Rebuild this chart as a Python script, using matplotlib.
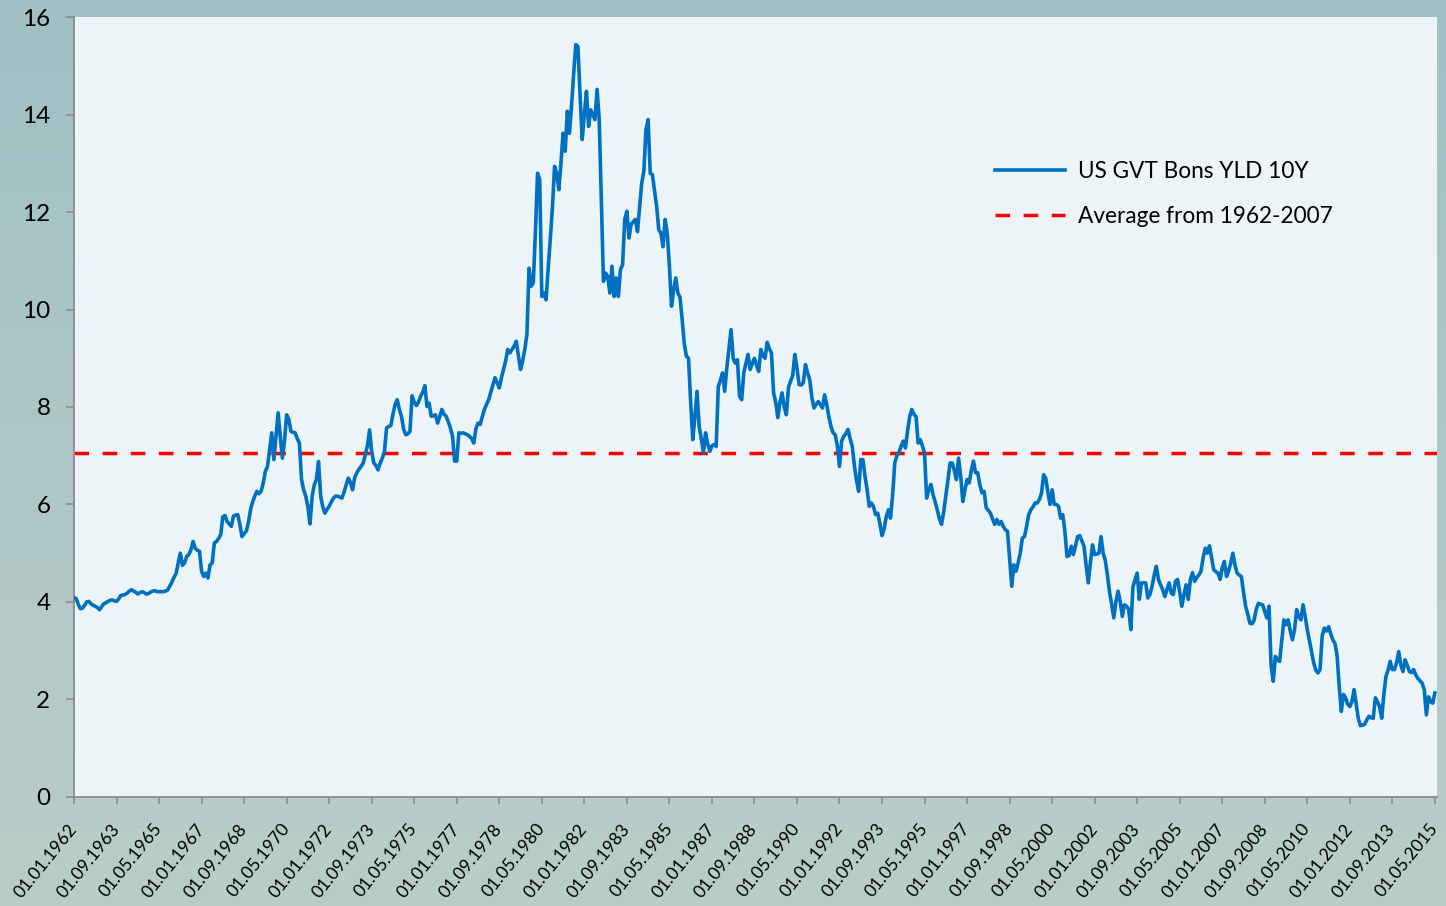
import numpy as np
import pandas as pd
import matplotlib
matplotlib.use("Agg")
import matplotlib.pyplot as plt
from matplotlib.colors import LinearSegmentedColormap

# ---------------- data ----------------
start_date = "1962-01-01"
end_date = "2015-05-01"
dates = pd.date_range(start_date, end_date, freq="MS")

series_label = "US GVT Bons YLD 10Y"
avg_label = "Average from 1962-2007"
avg_value = 7.06

yield_10y = [
    # 1962
    4.08, 4.07, 3.95, 3.86, 3.87, 3.93, 4.00, 4.01, 3.96, 3.93, 3.91, 3.88,
    # 1963
    3.84, 3.90, 3.96, 3.98, 4.01, 4.03, 4.04, 4.02, 4.01, 4.06, 4.13, 4.14,
    # 1964
    4.15, 4.18, 4.22, 4.25, 4.22, 4.20, 4.16, 4.19, 4.21, 4.19, 4.16, 4.17,
    # 1965
    4.20, 4.22, 4.23, 4.21, 4.21, 4.21, 4.21, 4.22, 4.24, 4.32, 4.40, 4.50,
    # 1966
    4.58, 4.80, 5.00, 4.75, 4.80, 4.93, 4.97, 5.07, 5.24, 5.10, 5.06, 5.04,
    # 1967
    4.63, 4.52, 4.59, 4.49, 4.76, 4.80, 5.21, 5.24, 5.30, 5.38, 5.75, 5.77,
    # 1968
    5.65, 5.60, 5.55, 5.76, 5.78, 5.79, 5.59, 5.34, 5.40, 5.45, 5.62, 5.89,
    # 1969
    6.05, 6.17, 6.27, 6.22, 6.27, 6.44, 6.68, 6.78, 7.13, 7.47, 6.92, 7.40,
    # 1970
    7.88, 7.40, 6.95, 7.30, 7.84, 7.75, 7.50, 7.48, 7.47, 7.35, 7.26, 6.51,
    # 1971
    6.30, 6.17, 5.95, 5.60, 6.17, 6.40, 6.51, 6.88, 6.17, 5.95, 5.82, 5.90,
    # 1972
    5.96, 6.05, 6.13, 6.17, 6.17, 6.15, 6.13, 6.25, 6.40, 6.54, 6.45, 6.30,
    # 1973
    6.55, 6.65, 6.72, 6.78, 6.85, 7.02, 7.20, 7.53, 7.09, 6.85, 6.80, 6.71,
    # 1974
    6.85, 6.95, 7.09, 7.57, 7.60, 7.62, 7.85, 8.05, 8.15, 7.95, 7.81, 7.55,
    # 1975
    7.43, 7.45, 7.50, 8.23, 8.10, 8.03, 8.10, 8.22, 8.30, 8.44, 8.01, 8.08,
    # 1976
    7.81, 7.82, 7.84, 7.67, 7.80, 7.95, 7.85, 7.81, 7.70, 7.57, 7.40, 6.89,
    # 1977
    6.89, 7.47, 7.46, 7.47, 7.45, 7.43, 7.40, 7.35, 7.26, 7.55, 7.67, 7.64,
    # 1978
    7.80, 7.95, 8.05, 8.15, 8.30, 8.45, 8.60, 8.50, 8.39, 8.60, 8.77, 8.95,
    # 1979
    9.18, 9.11, 9.18, 9.25, 9.35, 9.05, 8.77, 8.95, 9.18, 9.49, 10.85, 10.48,
    # 1980
    10.55, 11.60, 12.80, 12.67, 10.27, 10.34, 10.20, 10.85, 11.45, 12.10, 12.94, 12.80,
    # 1981
    12.46, 13.00, 13.62, 13.25, 14.07, 13.62, 14.20, 14.85, 15.44, 15.40, 14.40, 13.49,
    # 1982
    14.00, 14.48, 13.76, 14.10, 14.00, 13.90, 14.52, 13.90, 12.20, 10.58, 10.75, 10.68,
    # 1983
    10.34, 10.89, 10.27, 10.65, 10.27, 10.82, 10.92, 11.85, 12.02, 11.47, 11.75, 11.80,
    # 1984
    11.85, 11.60, 12.10, 12.60, 12.84, 13.70, 13.90, 12.80, 12.77, 12.45, 12.12, 11.64,
    # 1985
    11.57, 11.29, 11.85, 11.57, 10.90, 10.07, 10.40, 10.65, 10.34, 10.25, 9.80, 9.30,
    # 1986
    9.04, 9.00, 8.10, 7.33, 7.80, 8.32, 7.60, 7.35, 7.06, 7.47, 7.25, 7.09,
    # 1987
    7.20, 7.23, 7.19, 8.42, 8.55, 8.70, 8.32, 8.80, 9.20, 9.59, 9.00, 8.90,
    # 1988
    8.97, 8.22, 8.15, 8.70, 8.90, 9.08, 8.77, 8.90, 9.00, 8.85, 8.73, 9.18,
    # 1989
    9.05, 9.00, 9.33, 9.20, 9.11, 8.29, 8.10, 7.78, 8.10, 8.29, 8.00, 7.84,
    # 1990
    8.40, 8.53, 8.65, 9.08, 8.80, 8.46, 8.45, 8.50, 8.87, 8.70, 8.56, 8.20,
    # 1991
    7.98, 8.05, 8.11, 8.05, 7.98, 8.25, 8.05, 7.80, 7.60, 7.47, 7.43, 7.20,
    # 1992
    6.78, 7.30, 7.40, 7.45, 7.54, 7.35, 7.19, 6.80, 6.50, 6.27, 6.92, 6.92,
    # 1993
    6.58, 6.30, 5.96, 6.03, 5.95, 5.79, 5.82, 5.60, 5.36, 5.50, 5.75, 5.89,
    # 1994
    5.72, 6.20, 6.85, 7.00, 7.07, 7.20, 7.30, 7.16, 7.50, 7.80, 7.95, 7.85,
    # 1995
    7.80, 7.26, 7.33, 7.20, 7.05, 6.13, 6.30, 6.41, 6.20, 6.05, 5.89, 5.70,
    # 1996
    5.59, 5.85, 6.17, 6.50, 6.85, 6.85, 6.70, 6.51, 6.95, 6.58, 6.06, 6.30,
    # 1997
    6.51, 6.44, 6.70, 6.89, 6.65, 6.65, 6.40, 6.24, 6.27, 5.93, 5.88, 5.82,
    # 1998
    5.70, 5.59, 5.69, 5.59, 5.65, 5.55, 5.48, 5.45, 4.90, 4.32, 4.76, 4.63,
    # 1999
    4.80, 5.00, 5.31, 5.34, 5.55, 5.79, 5.89, 5.95, 6.03, 6.03, 6.10, 6.23,
    # 2000
    6.61, 6.54, 6.25, 6.00, 6.30, 6.00, 6.00, 5.96, 5.72, 5.79, 5.45, 4.93,
    # 2001
    4.95, 5.14, 4.97, 5.15, 5.34, 5.36, 5.25, 5.14, 4.75, 4.39, 4.80, 5.17,
    # 2002
    4.97, 4.98, 5.00, 5.34, 5.00, 4.85, 4.55, 4.20, 3.95, 3.67, 4.00, 4.22,
    # 2003
    4.01, 3.70, 3.94, 3.91, 3.85, 3.43, 4.30, 4.46, 4.59, 4.05, 4.39, 4.39,
    # 2004
    4.39, 4.08, 4.15, 4.32, 4.55, 4.73, 4.46, 4.35, 4.25, 4.11, 4.25, 4.39,
    # 2005
    4.18, 4.15, 4.42, 4.46, 4.20, 3.91, 4.15, 4.35, 4.05, 4.45, 4.60, 4.42,
    # 2006
    4.50, 4.55, 4.63, 4.90, 5.10, 5.00, 5.15, 4.90, 4.66, 4.62, 4.59, 4.46,
    # 2007
    4.70, 4.83, 4.52, 4.63, 4.80, 5.00, 4.75, 4.59, 4.55, 4.52, 4.20, 3.91,
    # 2008
    3.75, 3.56, 3.55, 3.63, 3.85, 3.97, 3.95, 3.94, 3.80, 3.67, 3.91, 2.68,
    # 2009
    2.37, 2.88, 2.80, 2.78, 3.20, 3.63, 3.53, 3.63, 3.40, 3.22, 3.43, 3.84,
    # 2010
    3.70, 3.63, 3.94, 3.70, 3.43, 3.20, 2.98, 2.75, 2.60, 2.54, 2.61, 3.30,
    # 2011
    3.46, 3.40, 3.49, 3.35, 3.22, 3.15, 2.90, 2.27, 1.75, 2.10, 2.03, 1.90,
    # 2012
    1.85, 1.95, 2.20, 1.90, 1.60, 1.46, 1.47, 1.49, 1.58, 1.65, 1.62, 1.61,
    # 2013
    2.03, 1.95, 1.85, 1.61, 2.10, 2.47, 2.60, 2.78, 2.61, 2.61, 2.75, 2.98,
    # 2014
    2.70, 2.57, 2.81, 2.70, 2.57, 2.55, 2.61, 2.50, 2.43, 2.38, 2.33, 2.20,
    # 2015
    1.68, 2.05, 1.95, 1.92, 2.13,
]

tick_labels = [
    "01.01.1962", "01.09.1963", "01.05.1965", "01.01.1967", "01.09.1968",
    "01.05.1970", "01.01.1972", "01.09.1973", "01.05.1975", "01.01.1977",
    "01.09.1978", "01.05.1980", "01.01.1982", "01.09.1983", "01.05.1985",
    "01.01.1987", "01.09.1988", "01.05.1990", "01.01.1992", "01.09.1993",
    "01.05.1995", "01.01.1997", "01.09.1998", "01.05.2000", "01.01.2002",
    "01.09.2003", "01.05.2005", "01.01.2007", "01.09.2008", "01.05.2010",
    "01.01.2012", "01.09.2013", "01.05.2015",
]
y_ticks = [0, 2, 4, 6, 8, 10, 12, 14, 16]

assert len(yield_10y) == len(dates), (len(yield_10y), len(dates))

# ---------------- style ----------------
plt.rcParams["font.family"] = ["Lato", "DejaVu Sans"]
W, H, DPI = 1446, 906, 100
fig = plt.figure(figsize=(W / DPI, H / DPI), dpi=DPI)

# background gradient
bg = fig.add_axes([0, 0, 1, 1], zorder=-10)
cmap = LinearSegmentedColormap.from_list("bg", ["#A0C0C4", "#AEC7C7", "#BACDC9"])
grad = np.linspace(0, 1, 256).reshape(-1, 1)
bg.imshow(grad, aspect="auto", cmap=cmap, extent=[0, 1, 0, 1], origin="upper")
bg.axis("off")

left_px, right_px, top_px, bottom_px = 74, 1437, 17.3, 796.7
ax = fig.add_axes([left_px / W, 1 - bottom_px / H,
                   (right_px - left_px) / W, (bottom_px - top_px) / H])
ax.set_facecolor("#EDF4F7")

x = np.arange(len(dates))
ax.plot(x, yield_10y, color="#0070C0", lw=2.6, solid_joinstyle="round",
        label=series_label, zorder=3)
ax.axhline(avg_value, color="#FF0000", lw=2.5, linestyle=(0, (4.2, 3.9)),
           label=avg_label, zorder=2)

ax.set_xlim(0, 641)
ax.set_ylim(0, 16)
ax.set_yticks(y_ticks)
ax.set_yticklabels([str(v) for v in y_ticks])

tick_pos = [dates.get_loc(pd.Timestamp(pd.to_datetime(t, format="%d.%m.%Y")))
            for t in tick_labels]
ax.set_xticks(tick_pos)
ax.set_xticklabels(tick_labels, rotation=51, ha="right", va="center",
                   rotation_mode="anchor")

for s in ["top", "right"]:
    ax.spines[s].set_visible(False)
for s in ["left", "bottom"]:
    ax.spines[s].set_color("#8C8C8C")
    ax.spines[s].set_linewidth(1.3)

ax.tick_params(axis="y", direction="out", length=6, width=1.2, color="#8C8C8C",
               labelsize=17.5, pad=11, labelcolor="black")
ax.tick_params(axis="x", direction="out", length=5, width=1.2, color="#8C8C8C",
               labelsize=12.6, pad=16, labelcolor="black")

leg = ax.legend(loc="center left", bbox_to_anchor=((995 - left_px) / (right_px - left_px),
                                                   (bottom_px - 194) / (bottom_px - top_px)),
                frameon=False, fontsize=16.3, handlelength=3.1, handletextpad=0.55,
                labelspacing=1.05, borderpad=0, borderaxespad=0)

fig.savefig("out.png", dpi=DPI)
